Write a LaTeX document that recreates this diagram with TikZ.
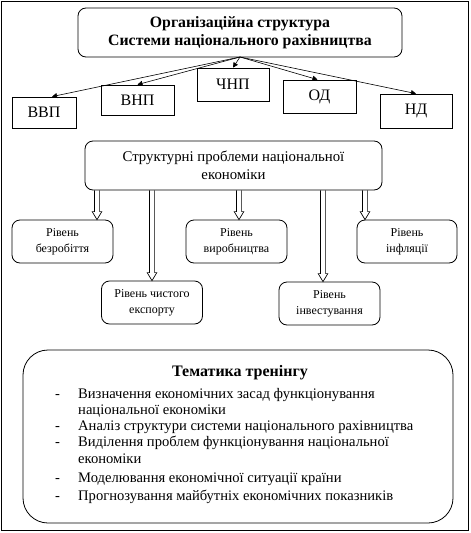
\documentclass[tikz,border=0pt]{standalone}
\usepackage{fontspec}
\setmainfont{Liberation Serif}
\usetikzlibrary{arrows.meta,calc}
\begin{document}
\begin{tikzpicture}[x=1pt,y=-1pt,
  frame/.style={draw,line width=1.2pt},
  rbox/.style={draw,line width=0.8pt,rounded corners=8pt,inner sep=0pt,align=center},
  sbox/.style={draw,line width=0.8pt,inner sep=0pt,align=center,font=\fontsize{16}{18}\selectfont},
  lbox/.style={rbox,minimum width=101pt,minimum height=43pt,font=\fontsize{12}{16}\selectfont},
  thin/.style={line width=0.6pt,-{Triangle[length=5pt,width=5pt]}},
  hollow/.style={line width=0.7pt,to path={let \p1=(\tikztostart), \p2=(\tikztotarget) in
     (\x1-2.6pt,\y1) -- (\x1-2.6pt,\y2+8pt) -- (\x1-4.8pt,\y2+8pt) -- (\x2,\y2)
     -- (\x1+4.8pt,\y2+8pt) -- (\x1+2.6pt,\y2+8pt) -- (\x1+2.6pt,\y1)}}
]
\useasboundingbox (0,0) rectangle (471,533);
\draw[frame] (1.5,1.5) rectangle (468.5,530.5);

% top
\node[rbox,minimum width=324pt,minimum height=49pt,font=\bfseries\fontsize{15.8}{18}\selectfont] (top) at (240,32.5)
  {Організаційна структура\\Системи національного рахівництва};
\node[sbox,minimum width=64pt,minimum height=31pt] (vvp) at (44,112.5) {ВВП};
\node[sbox,minimum width=73pt,minimum height=30pt] (vnp) at (137.5,100) {ВНП};
\node[sbox,minimum width=72pt,minimum height=33pt] (chnp) at (233,84.5) {ЧНП};
\node[sbox,minimum width=73pt,minimum height=33pt] (od) at (319.5,96.5) {ОД};
\node[sbox,minimum width=72pt,minimum height=34pt] (nd) at (416,111) {НД};

\coordinate (o) at (240,57);
\draw[thin] (o) -- ($(vvp.north)+(8,0)$);
\draw[thin] (o) -- (vnp.north);
\draw[thin] (o) -- (chnp.north);
\draw[thin] (o) -- ($(od.north)+(-2,0)$);
\draw[thin] (o) -- (nd.north);

% structure
\node[rbox,minimum width=297pt,minimum height=49pt,font=\fontsize{14.8}{18}\selectfont] (st) at (233.5,165.5)
  {Структурні проблеми національної\\економіки};
\node[lbox] (bz) at (62.5,241.5) {Рівень\\безробіття};
\node[lbox] (ex) at (152,302.5) {Рівень чистого\\експорту};
\node[lbox] (vy) at (236.5,241.5) {Рівень\\виробництва};
\node[lbox] (iv) at (329.5,303.5) {Рівень\\інвестування};
\node[lbox,minimum width=100pt] (if) at (407,241.5) {Рівень\\інфляції};

\coordinate (h1) at (97,0);
\coordinate (h2) at (152,0);
\coordinate (h3) at (239,0);
\coordinate (h4) at (323,0);
\coordinate (h5) at (365,0);
\draw[hollow] (h1 |- st.south) to (h1 |- bz.north);
\draw[hollow] (h2 |- st.south) to (h2 |- ex.north);
\draw[hollow] (h3 |- st.south) to (h3 |- vy.north);
\draw[hollow] (h4 |- st.south) to (h4 |- iv.north);
\draw[hollow] (h5 |- st.south) to (h5 |- if.north);

% training
\node[draw,line width=0.8pt,rounded corners=25pt,minimum width=430pt,minimum height=173pt] (tema) at (238,436.5) {};
\node[font=\bfseries\fontsize{16}{18}\selectfont] (tt) at (240,373) {Тематика тренінгу};
\node[anchor=base west,inner sep=0pt,font=\fontsize{14.6}{16.3}\selectfont] (list) at (55,398)
 {\begin{tabular}[t]{@{}p{23pt}@{}l@{}}
 - & Визначення економічних засад функціонування\\
   & національної економіки\\
 - & Аналіз структури системи національного рахівництва\\
 - & Виділення проблем функціонування національної\\
   & економіки\\[2.5pt]
 - & Моделювання економічної ситуації країни\\[2.5pt]
 - & Прогнозування майбутніх економічних показників
 \end{tabular}};
\end{tikzpicture}
\end{document}
